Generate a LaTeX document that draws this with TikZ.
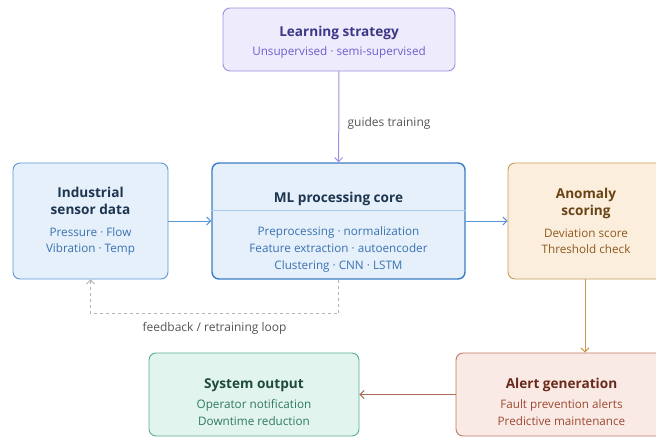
\documentclass[tikz,border=0pt]{standalone}
\usepackage{fontspec}
\setmainfont{Open Sans}
\usepackage{tikz}
\usetikzlibrary{calc,positioning,arrows.meta,shapes}

\definecolor{lsFill}{HTML}{EEEBFC}
\definecolor{lsLine}{HTML}{9D90E3}
\definecolor{lsHead}{HTML}{3E3787}
\definecolor{lsText}{HTML}{6C5FD0}
\definecolor{inFill}{HTML}{E5F0FB}
\definecolor{inLine}{HTML}{5A96D6}
\definecolor{inHead}{HTML}{1E3550}
\definecolor{inText}{HTML}{3A72B0}
\definecolor{coreLine}{HTML}{3D7CC4}
\definecolor{coreRule}{HTML}{A9CCEE}
\definecolor{anFill}{HTML}{FBEEDD}
\definecolor{anLine}{HTML}{C99A5B}
\definecolor{anHead}{HTML}{6A4314}
\definecolor{anText}{HTML}{8D5A1F}
\definecolor{alFill}{HTML}{FAEAE5}
\definecolor{alLine}{HTML}{BE7A63}
\definecolor{alHead}{HTML}{6A2A1B}
\definecolor{alText}{HTML}{9C4A32}
\definecolor{outFill}{HTML}{E2F4EE}
\definecolor{outLine}{HTML}{5BAE8F}
\definecolor{outHead}{HTML}{1E4A3A}
\definecolor{outText}{HTML}{2E7A5F}
\definecolor{noteGray}{HTML}{555555}

\newcommand{\subtxt}[2]{{\mdseries\color{#1}\fontsize{11.7}{16}\selectfont #2}}

\tikzset{
  box/.style={draw, rounded corners=7pt, line width=0.9pt, align=center,
    font=\fontsize{13.6}{17}\selectfont\bfseries},
  sub/.style={font=\fontsize{11.7}{16.8}\selectfont},
  flow/.style={-{Straight Barb[length=4pt,width=8pt]}, line width=1pt},
  note/.style={font=\fontsize{12}{14}\selectfont, text=noteGray}
}

\begin{document}
\begin{tikzpicture}[x=1pt,y=-1pt]
\useasboundingbox (0,0) rectangle (656,439);

% learning strategy
\node[box, fill=lsFill, draw=lsLine, text=lsHead, minimum width=232pt, minimum height=63pt]
  (strategy) at (339,39.5) {\rule{0pt}{16pt}Learning strategy\\[2pt]\subtxt{lsText}{Unsupervised · semi-supervised}};

% sensor input
\node[box, fill=inFill, draw=inLine, text=inHead, minimum width=155pt, minimum height=116pt]
  (sensor) at (90.5,221) {Industrial\\sensor data\\[5pt]\subtxt{inText}{Pressure · Flow}\\[-1pt]\subtxt{inText}{Vibration · Temp}};

% processing core
\node[box, fill=inFill, draw=coreLine, line width=1.4pt, minimum width=253pt, minimum height=116pt]
  (core) at (338.5,221) {};
\node[font=\fontsize{13.6}{17}\selectfont\bfseries, text=inHead] (coretitle) at (338.5,198.5) {ML processing core};
\coordinate (ruleL) at ($(core.west)+(0,-11)$);
\coordinate (ruleR) at ($(core.east)+(0,-11)$);
\draw[coreRule, line width=0.9pt] (ruleL) -- (ruleR);
\node[sub, text=inText, align=center] (corebody) at (338.5,249.5)
  {Preprocessing · normalization\\Feature extraction · autoencoder\\Clustering · CNN · LSTM};

% anomaly scoring
\node[box, fill=anFill, draw=anLine, text=anHead, minimum width=156pt, minimum height=116pt]
  (anomaly) at (586,221) {Anomaly\\scoring\\[5pt]\subtxt{anText}{Deviation score}\\[-1pt]\subtxt{anText}{Threshold check}};

% alert generation
\node[box, fill=alFill, draw=alLine, text=alHead, minimum width=211pt, minimum height=83pt]
  (alert) at (561.5,394.5) {\rule{0pt}{25pt}Alert generation\\[3pt]\subtxt{alText}{Fault prevention alerts}\\[0pt]\subtxt{alText}{Predictive maintenance}};

% system output
\node[box, fill=outFill, draw=outLine, text=outHead, minimum width=210pt, minimum height=83pt]
  (output) at (254,394.5) {\rule{0pt}{25pt}System output\\[3pt]\subtxt{outText}{Operator notification}\\[0pt]\subtxt{outText}{Downtime reduction}};

% connectors
\draw[flow, lsLine] (strategy) -- node[note, right=5pt, pos=0.57] {guides training} (core);
\draw[flow, inLine] (sensor) -- (core);
\draw[flow, inLine] (core) -- (anomaly.west |- core);
\draw[flow, anLine!85!orange] (anomaly.south -| 585,0) -- (alert.north -| 585,0);
\draw[flow, alLine!90!black] (alert) -- (output);

% feedback loop
\coordinate (loop) at ($(core.south)+(0,34)$);
\draw[flow, dashed, gray!60, line width=0.9pt] (core.south) -- (loop)
  -- node[note, below=5pt] {feedback / retraining loop} (loop -| sensor.south) -- (sensor.south);

\end{tikzpicture}
\end{document}
